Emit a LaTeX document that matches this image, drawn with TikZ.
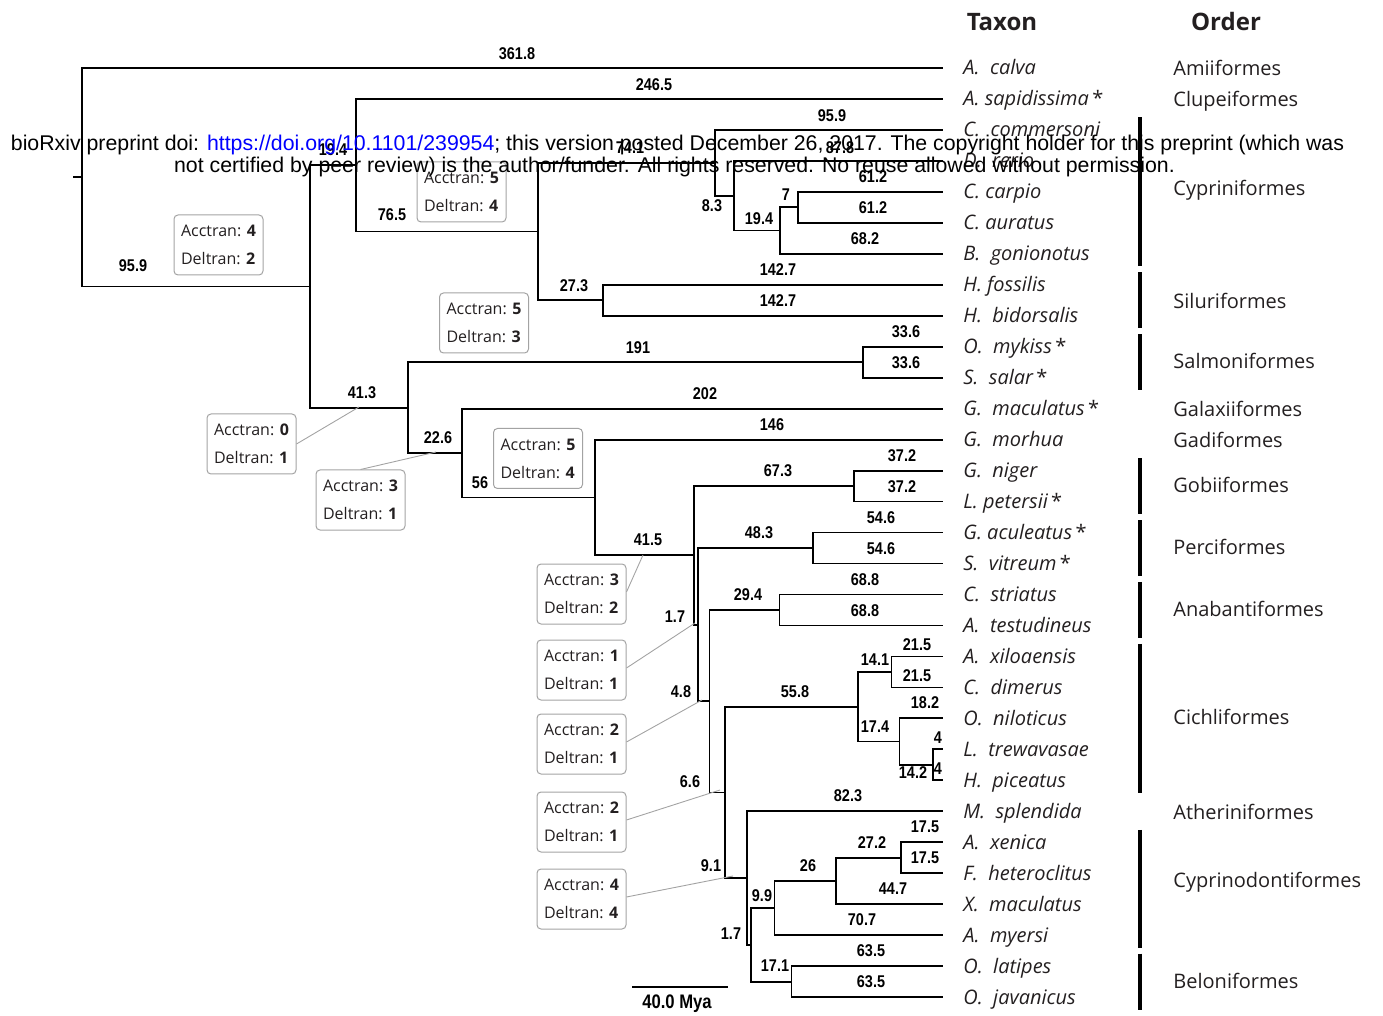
\documentclass[tikz,border=0pt]{standalone}
\usepackage{fontspec}
\setmainfont{Open Sans}
\newfontfamily\numfont[FakeStretch=0.85]{Liberation Sans}
\newfontfamily\wmfont{Liberation Sans}
\definecolor{ink}{HTML}{231F20}
\definecolor{boxgray}{HTML}{A3A3A3}
\definecolor{wmblue}{RGB}{0,0,255}
\newcommand\tipy[1]{68+30.97*#1}
\newcommand\sig{\,{\upshape*}}

\tikzset{
  branch/.style={line width=0.9pt, black},
  blen/.style={font=\numfont\bfseries\fontsize{8.5}{9}\selectfont, inner sep=0pt},
  taxon/.style={anchor=base west, inner sep=0pt, text=ink, font=\itshape\fontsize{10}{12}\selectfont},
  order/.style={anchor=base west, inner sep=0pt, text=ink, font=\fontsize{10}{12}\selectfont},
  header/.style={inner sep=0pt, text=ink, font=\bfseries\fontsize{12}{14}\selectfont},
  statbox/.style={draw=boxgray, rounded corners=2pt, line width=0.5pt, align=left,
    minimum width=44.5pt, minimum height=30pt, inner sep=0pt, text=ink,
    font=\fontsize{8}{14}\selectfont},
  lead/.style={draw=boxgray, line width=0.45pt},
  orderbar/.style={line width=1.6pt, black},
  wmark/.style={inner sep=0pt, font=\wmfont\fontsize{10.65}{11}\selectfont}
}

\begin{document}
\begin{tikzpicture}[x=0.5pt, y=-0.5pt]
\useasboundingbox (0,0) rectangle (1383,1016);

%%%%% tips %%%%%
\foreach \name [count=\i from 0] in {A.\ \ calva, A. sapidissima\sig, C.\ \ commersoni, D.\ \ rerio,
  C. carpio, C. auratus, B.\ \ gonionotus, H. fossilis, H.\ \ bidorsalis, O.\ \ mykiss\sig,
  S.\ \ salar\sig, G.\ \ maculatus\sig, G.\ \ morhua, G.\ \ niger, L. petersii\sig,
  G. aculeatus\sig, S.\ \ vitreum\sig, C.\ \ striatus, A.\ \ testudineus, A.\ \ xiloaensis,
  C.\ \ dimerus, O.\ \ niloticus, L.\ \ trewavasae, H.\ \ piceatus, M.\ \ splendida,
  A.\ \ xenica, F.\ \ heteroclitus, X.\ \ maculatus, A.\ \ myersi, O.\ \ latipes, O.\ \ javanicus}
{
  \coordinate (t\i) at (943,{\tipy{\i}});
  \node[taxon] (tx\i) at (963,{\tipy{\i}+7}) {\name};
}

%%%%% internal nodes %%%%%
\coordinate (stem)    at (73,{\tipy{3.5269}});
\coordinate (root)    at (82,{\tipy{3.5269}});
\coordinate (teleo)   at (310,{\tipy{7.05383}});
\coordinate (otoceph) at (356,{\tipy{3.140625}});
\coordinate (ostario) at (538,{\tipy{5.28125}});
\coordinate (cypr)    at (715,{\tipy{3.0625}});
\coordinate (cyprA)   at (734,{\tipy{4.125}});
\coordinate (cyprB)   at (780,{\tipy{5.25}});
\coordinate (cyprC)   at (797.7,{\tipy{4.5}});
\coordinate (silu)    at (603,{\tipy{7.5}});
\coordinate (eutel)   at (408,{\tipy{10.967041}});
\coordinate (salmo)   at (863,{\tipy{9.5}});
\coordinate (neot)    at (462,{\tipy{12.434082}});
\coordinate (acanth)  at (595,{\tipy{13.868164}});
\coordinate (percom)  at (694,{\tipy{15.736328}});
\coordinate (gobi)    at (854,{\tipy{13.5}});
\coordinate (perA)    at (698,{\tipy{17.972656}});
\coordinate (perc)    at (813,{\tipy{15.5}});
\coordinate (perB)    at (709.5,{\tipy{20.445313}});
\coordinate (anab)    at (779.5,{\tipy{17.5}});
\coordinate (perC)    at (725,{\tipy{23.390625}});
\coordinate (cich)    at (858,{\tipy{20.625}});
\coordinate (cichA)   at (891.5,{\tipy{19.5}});
\coordinate (cichB)   at (899.4,{\tipy{21.75}});
\coordinate (cichC)   at (933.2,{\tipy{22.5}});
\coordinate (athA)    at (746.8,{\tipy{26.15625}});
\coordinate (athB)    at (750.8,{\tipy{28.3125}});
\coordinate (cypd)    at (774.4,{\tipy{27.125}});
\coordinate (cypdA)   at (836.3,{\tipy{26.25}});
\coordinate (cypdB)   at (901,{\tipy{25.5}});
\coordinate (belo)    at (791.5,{\tipy{29.5}});

%%%%% branches %%%%%
\draw[branch] (stem) -- (root);
\foreach \p/\c in {root/t0, root/teleo, teleo/otoceph, teleo/eutel, otoceph/t1, otoceph/ostario,
  ostario/cypr, ostario/silu, cypr/t2, cypr/cyprA, cyprA/t3, cyprA/cyprB, cyprB/cyprC, cyprB/t6,
  cyprC/t4, cyprC/t5, silu/t7, silu/t8, eutel/salmo, eutel/neot, salmo/t9, salmo/t10,
  neot/t11, neot/acanth, acanth/t12, acanth/percom, percom/gobi, percom/perA, gobi/t13, gobi/t14,
  perA/perc, perA/perB, perc/t15, perc/t16, perB/anab, perB/perC, anab/t17, anab/t18,
  perC/cich, perC/athA, cich/cichA, cich/cichB, cichA/t19, cichA/t20, cichB/t21, cichB/cichC,
  cichC/t22, cichC/t23, athA/t24, athA/athB, athB/cypd, athB/belo, cypd/cypdA, cypd/t28,
  cypdA/cypdB, cypdA/t27, cypdB/t25, cypdB/t26, belo/t29, belo/t30}
  \draw[branch] (\p) |- (\c);

%%%%% branch lengths %%%%%
\foreach \x/\y/\t [count=\i] in {517/54/361.8, 654/85/246.5, 832/116/95.9, 333/150/19.4,
  630/148/74.1, 840/148/87.8, 873/177/61.2, 873/208/61.2, 786/195/7, 712/206/8.3, 759/219/19.4,
  865/239/68.2, 392/215/76.5, 133/266/95.9, 778/270/142.7, 778/301/142.7, 574/286/27.3,
  906/332/33.6, 906/363/33.6, 638/348/191, 362/393/41.3, 705/394/202, 438/438/22.6,
  772/425/146, 480/483/56, 778/471/67.3, 902/456/37.2, 902/487/37.2, 881/518/54.6,
  881/549/54.6, 759/533/48.3, 648/540/41.5, 865/580/68.8, 865/611/68.8, 748/595/29.4,
  675/617/1.7, 917/645/21.5, 917/676/21.5, 875/660/14.1, 795/692/55.8, 681/692/4.8,
  925/703/18.2, 875/727/17.4, 938/738/4, 938/769/4, 913/773/14.2, 690/782/6.6, 848/796/82.3,
  925/827/17.5, 925/858/17.5, 872/843/27.2, 808/866/26, 711/866/9.1, 893/889/44.7,
  762/896/9.9, 862/920/70.7, 731/934/1.7, 871/951/63.5, 871/982/63.5, 775/966/17.1}
  \node[blen] (bl\i) at (\x,\y) {\t};

%%%%% character state boxes %%%%%
\node[statbox] (bx1)  at (218.5,245) {Acctran: \textbf{4}\\Deltran: \textbf{2}};
\node[statbox] (bx2)  at (461.5,192) {Acctran: \textbf{5}\\Deltran: \textbf{4}};
\node[statbox] (bx3)  at (484,323)   {Acctran: \textbf{5}\\Deltran: \textbf{3}};
\node[statbox] (bx4)  at (251.5,444) {Acctran: \textbf{0}\\Deltran: \textbf{1}};
\node[statbox] (bx5)  at (360.5,500) {Acctran: \textbf{3}\\Deltran: \textbf{1}};
\node[statbox] (bx6)  at (538,458.5) {Acctran: \textbf{5}\\Deltran: \textbf{4}};
\node[statbox] (bx7)  at (581.5,594) {Acctran: \textbf{3}\\Deltran: \textbf{2}};
\node[statbox] (bx8)  at (581.5,670) {Acctran: \textbf{1}\\Deltran: \textbf{1}};
\node[statbox] (bx9)  at (581.5,744) {Acctran: \textbf{2}\\Deltran: \textbf{1}};
\node[statbox] (bx10) at (581.5,822) {Acctran: \textbf{2}\\Deltran: \textbf{1}};
\node[statbox] (bx11) at (581.5,899) {Acctran: \textbf{4}\\Deltran: \textbf{4}};

\coordinate (pt4)  at (359,407);
\coordinate (pt5)  at (436,452);
\coordinate (pt7)  at (643,555);
\coordinate (pt8)  at (695,623);
\coordinate (pt9)  at (702,700);
\coordinate (pt10) at (720,790);
\coordinate (pt11) at (733,876);
\draw[lead] (bx4.east) -- (pt4);
\draw[lead] (bx5.north) -- (pt5);
\foreach \i in {7,...,11}
  \draw[lead] ([yshift=1pt]bx\i.east) -- (pt\i);

%%%%% orders %%%%%
\node[header] (htaxon) at (1002,22) {Taxon};
\node[header] (horder) at (1226,22) {Order};
\foreach \name/\y in {Amiiformes/0, Clupeiformes/1, Cypriniformes/3.87, Siluriformes/7.5,
  Salmoniformes/9.45, Galaxiiformes/11, Gadiformes/12, Gobiiformes/13.45, Perciformes/15.45,
  Anabantiformes/17.45, Cichliformes/20.95, Atheriniformes/24, Cyprinodontiformes/26.2,
  Beloniformes/29.45}
  \node[order] (o\name) at (1173,{\tipy{\y}+8}) {\name};
\foreach \a/\b in {2/6, 7/8, 9/10, 13/14, 15/16, 17/18, 19/23, 25/28, 29/30}
{
  \coordinate (bt\a) at (1140,{\tipy{\a}-12.5});
  \coordinate (bb\a) at (1140,{\tipy{\b}+12.5});
  \draw[orderbar] (bt\a) -- (bb\a);
}

%%%%% scale bar %%%%%
\coordinate (sbl) at (632,987);
\coordinate (sbr) at (728,987);
\draw[branch] (sbl) -- (sbr);
\node[blen, font=\numfont\bfseries\fontsize{9.8}{11}\selectfont] (sblab) at (677,1004) {40.0 Mya};

%%%%% preprint stamp %%%%%
\node[wmark] (wm1) at (677.5,145) {bioRxiv preprint doi: \textcolor{wmblue}{https://doi.org/10.1101/239954}; this version posted December 26, 2017. The copyright holder for this preprint (which was};
\node[wmark] (wm2) at (674.5,167) {not certified by peer review) is the author/funder. All rights reserved. No reuse allowed without permission.};
\end{tikzpicture}
\end{document}
